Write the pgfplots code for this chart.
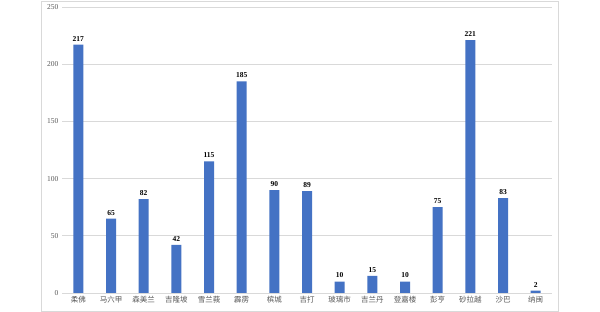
\documentclass[border=0pt]{standalone}
\usepackage{pgfplots}
\pgfplotsset{compat=1.18}
\usepackage{fontspec}
\setmainfont{Liberation Serif}
\newfontfamily\cjk{Noto Sans CJK SC}
\definecolor{barblue}{HTML}{4472C4}
\definecolor{gridgray}{HTML}{D9D9D9}
\definecolor{labgray}{HTML}{595959}
\begin{document}
\begin{tikzpicture}
\path[use as bounding box, fill=white] (0,0) rectangle (600pt,312pt);
\draw[gridgray, line width=0.6pt] (41pt,1pt) rectangle (558pt,311pt);
\begin{axis}[
  at={(62pt,19pt)}, anchor=south west,
  scale only axis, width=490pt, height=286pt,
  xmin=-0.5, xmax=14.5, ymin=0, ymax=250,
  ytick={0,50,100,150,200,250},
  xtick={0,...,14},
  xticklabels={柔佛,马六甲,森美兰,吉隆坡,雪兰莪,霹雳,槟城,吉打,玻璃市,吉兰丹,登嘉楼,彭亨,砂拉越,沙巴,纳闽},
  xticklabel style={font=\cjk\fontsize{7.5}{8}\selectfont, text=labgray},
  yticklabel style={font=\fontsize{7.5}{8}\selectfont, text=labgray},
  /pgf/number format/assume math mode=true,
  major tick length=0pt,
  axis x line*=bottom,
  y axis line style={draw=none},
  x axis line style={gridgray, line width=0.8pt},
  ymajorgrids, grid style={gridgray, line width=0.6pt},
  ybar, bar width=10pt,
  nodes near coords,
  every node near coord/.append style={font=\bfseries\fontsize{7.5}{8}\selectfont, text=black, /pgf/number format/assume math mode=true},
  clip=false,
]
\addplot[fill=barblue, draw=none] coordinates {
(0,217) (1,65) (2,82) (3,42) (4,115) (5,185) (6,90) (7,89) (8,10) (9,15) (10,10) (11,75) (12,221) (13,83) (14,2)};
\end{axis}
\end{tikzpicture}
\end{document}
